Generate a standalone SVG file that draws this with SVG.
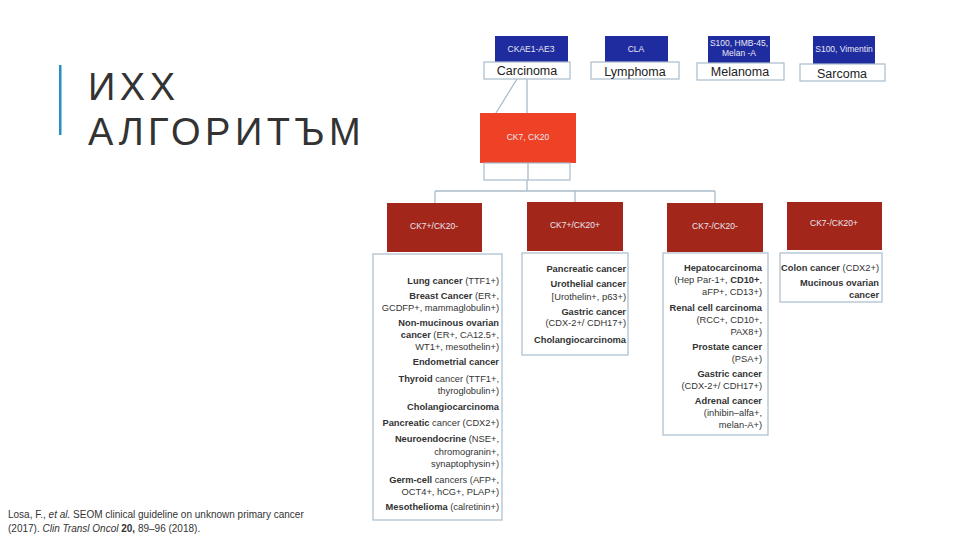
<svg xmlns="http://www.w3.org/2000/svg" width="960" height="540" viewBox="0 0 960 540">
<style>
.bl{fill:#1f2ca0}
.wb{fill:#fff;stroke:#a9bccb;stroke-width:1.2}
.dr{fill:#a3261b}
.t{font-family:"Liberation Sans",Arial,sans-serif}
.w{fill:#e8e8f0;font-size:8.5px;text-anchor:middle}
.lb{fill:#222;font-size:12.5px;text-anchor:middle}
.ls{fill:#333;font-size:9.3px;text-anchor:end}
.b{font-weight:bold}
.ln{stroke:#a9bccb;stroke-width:1.3;fill:none}
</style>
<rect x="59" y="65" width="2.5" height="70" fill="#2a8fc0"/>
<text class="t" x="88" y="100" font-size="38" fill="#333" letter-spacing="4.5">ИХХ</text>
<text class="t" x="88" y="145" font-size="38" fill="#333" letter-spacing="4.5">АЛГОРИТЪМ</text>
<text class="t" x="8" y="518" font-size="10" fill="#333">Losa, F., <tspan font-style="italic">et al.</tspan> SEOM clinical guideline on unknown primary cancer</text>
<text class="t" x="8" y="532" font-size="10" fill="#333">(2017). <tspan font-style="italic">Clin Transl Oncol</tspan> <tspan font-weight="bold">20,</tspan> 89–96 (2018).</text>
<g id="connectors">
<path class="ln" d="M517 79 L496 113 M527 79 V113 M528 163 V180 M527 180 V191 M435 191 H715 M435 191 V203 M575 191 V202 M715 191 V203"/>
</g>
<g id="carcinoma"><rect class="bl" x="495" y="36" width="73" height="26"/><text class="t w" x="531" y="52">CKAE1-AE3</text><rect class="wb" x="484" y="62" width="86" height="17"/><text class="t lb" x="527" y="75">Carcinoma</text></g>
<g id="lymphoma"><rect class="bl" x="605" y="36" width="63" height="26"/><text class="t w" x="636" y="52">CLA</text><rect class="wb" x="591" y="62" width="88" height="17"/><text class="t lb" x="635" y="76">Lymphoma</text></g>
<g id="melanoma"><rect class="bl" x="708" y="36" width="62" height="27"/><text class="t w" x="739" y="46">S100, HMB-45,</text><text class="t w" x="739" y="56">Melan -A</text><rect class="wb" x="697" y="63" width="87" height="17"/><text class="t lb" x="740" y="76">Melanoma</text></g>
<g id="sarcoma"><rect class="bl" x="813" y="36" width="62" height="28"/><text class="t w" x="844" y="52" font-size="8">S100, Vimentin</text><rect class="wb" x="800" y="64" width="85" height="17"/><text class="t lb" x="842" y="78">Sarcoma</text></g>
<g id="ck7ck20"><rect x="480" y="113" width="96" height="50" fill="#ee4126"/><text class="t w" x="528" y="140" fill="#f8d0c8">CK7, CK20</text><rect class="wb" x="484" y="163" width="86" height="17"/><path class="ln" d="M528 163 V180"/></g>
<g id="n1"><rect class="dr" x="387" y="203" width="95" height="49"/><text class="t w" x="434" y="229">CK7+/CK20-</text>
<rect class="wb" x="373" y="254" width="129" height="266"/>
<text class="t ls" x="499"><tspan y="284" class="b">Lung cancer</tspan> (TTF1+)<tspan x="499" y="299" class="b">Breast Cancer</tspan> (ER+,<tspan x="499" y="311">GCDFP+, mammaglobulin+)</tspan><tspan x="499" y="326" class="b">Non-mucinous ovarian</tspan><tspan x="499" y="338"><tspan class="b">cancer</tspan>  (ER+, CA12.5+,</tspan><tspan x="499" y="350">WT1+, mesothelin+)</tspan><tspan x="499" y="365" class="b">Endometrial cancer</tspan><tspan x="499" y="382"><tspan class="b">Thyroid</tspan> cancer (TTF1+,</tspan><tspan x="499" y="394">thyroglobulin+)</tspan><tspan x="499" y="410" class="b">Cholangiocarcinoma</tspan><tspan x="499" y="426"><tspan class="b">Pancreatic</tspan> cancer (CDX2+)</tspan><tspan x="499" y="442"><tspan class="b">Neuroendocrine</tspan> (NSE+,</tspan><tspan x="499" y="455">chromogranin+,</tspan><tspan x="499" y="467">synaptophysin+)</tspan><tspan x="499" y="483"><tspan class="b">Germ-cell</tspan> cancers (AFP+,</tspan><tspan x="499" y="495">OCT4+, hCG+, PLAP+)</tspan><tspan x="499" y="510"><tspan class="b">Mesothelioma</tspan> (calretinin+)</tspan></text></g>
<g id="n2"><rect class="dr" x="527" y="202" width="96" height="49"/><text class="t w" x="575" y="228">CK7+/CK20+</text>
<rect class="wb" x="522" y="253" width="106" height="102"/>
<text class="t ls" x="626"><tspan y="272" class="b">Pancreatic cancer</tspan><tspan x="626" y="287" class="b">Urothelial cancer</tspan><tspan x="626" y="300">[Urothelin+, p63+)</tspan><tspan x="626" y="315" class="b">Gastric cancer</tspan><tspan x="626" y="326">(CDX-2+/ CDH17+)</tspan><tspan x="626" y="343" class="b">Cholangiocarcinoma</tspan></text></g>
<g id="n3"><rect class="dr" x="667" y="203" width="96" height="49"/><text class="t w" x="715" y="229">CK7-/CK20-</text>
<rect class="wb" x="663" y="253" width="105" height="182"/>
<text class="t ls" x="762"><tspan y="271" class="b">Hepatocarcinoma</tspan><tspan x="762" y="283">(Hep Par-1+, <tspan class="b">CD10+</tspan>,</tspan><tspan x="762" y="295">aFP+, CD13+)</tspan><tspan x="762" y="311" class="b">Renal cell carcinoma</tspan><tspan x="762" y="323">(RCC+, CD10+,</tspan><tspan x="762" y="335">PAX8+)</tspan><tspan x="762" y="350" class="b">Prostate cancer</tspan><tspan x="762" y="362">(PSA+)</tspan><tspan x="762" y="377" class="b">Gastric cancer</tspan><tspan x="762" y="389">(CDX-2+/ CDH17+)</tspan><tspan x="762" y="404" class="b">Adrenal cancer</tspan><tspan x="762" y="416">(inhibin–alfa+,</tspan><tspan x="762" y="428">melan-A+)</tspan></text></g>
<g id="n4"><rect class="dr" x="787" y="202" width="95" height="48"/><text class="t w" x="834" y="226">CK7-/CK20+</text>
<rect class="wb" x="780" y="253" width="102" height="49"/>
<text class="t ls" x="879"><tspan y="271"><tspan class="b">Colon cancer</tspan> (CDX2+)</tspan><tspan x="879" y="286" class="b">Mucinous ovarian</tspan><tspan x="879" y="298" class="b">cancer</tspan></text></g>
</svg>
